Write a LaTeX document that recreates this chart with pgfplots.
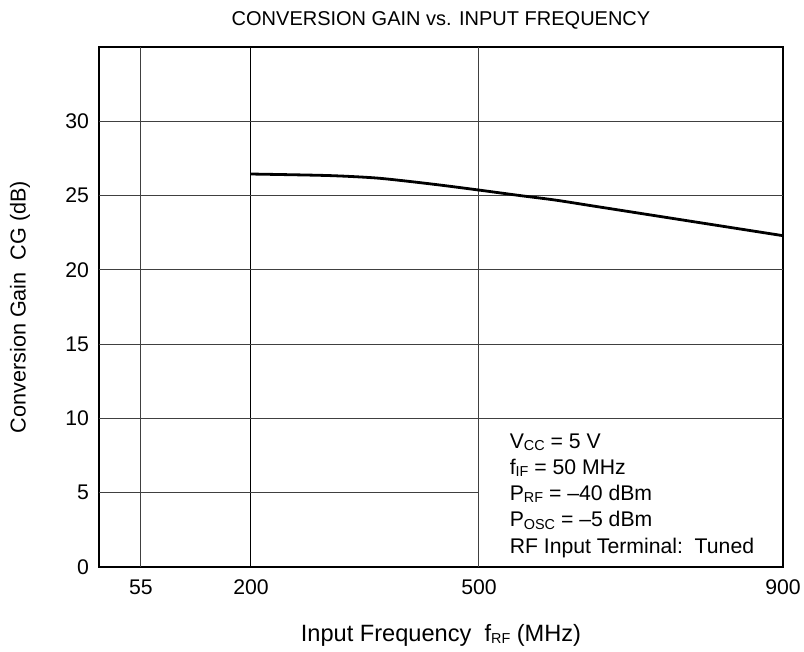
\documentclass[border=0pt]{standalone}
\usepackage{pgfplots}
\pgfplotsset{compat=1.18}
\usepackage{fontspec}
\setmainfont{Liberation Sans}
\newcommand{\sub}[1]{\raisebox{-0.2ex}{\fontsize{7.2}{8}\selectfont #1}}
\begin{document}
\begin{tikzpicture}[x=1pt,y=1pt]
\useasboundingbox (0,0) rectangle (402,326);
\begin{axis}[
  at={(49.5pt,42.5pt)}, anchor=south west,
  width=342pt, height=260pt, scale only axis,
  xmin=0, xmax=900, ymin=0, ymax=35,
  xtick={55,200,500,900}, ytick={0,5,10,15,20,25,30},
  major tick length=0pt,
  tick label style={font=\fontsize{10.6}{12}\selectfont},
  /pgf/number format/assume math mode=true,
  xticklabel style={yshift=-3pt},
  yticklabel style={xshift=-1.5pt},
  axis line style={line width=0.8pt},
  clip=false,
]
\draw[black!75, line width=0.5pt] (axis cs:55,0) -- (axis cs:55,35);
\draw[black, line width=0.5pt] (axis cs:200,0) -- (axis cs:200,35);
\draw[black!75, line width=0.5pt] (axis cs:500,0) -- (axis cs:500,35);
\draw[black!75, line width=0.5pt] (axis cs:0,5) -- (axis cs:500,5);
\foreach \yy in {10,15,20,25,30} {
  \edef\tmp{\noexpand\draw[black!75, line width=0.5pt] (axis cs:0,\yy) -- (axis cs:900,\yy);}\tmp
}
\addplot[black, line width=1.4pt, smooth, tension=0.5] coordinates {
(200,26.45) (300,26.35) (360,26.2) (400,26.0) (450,25.7) (500,25.37) (554,25.0) (600,24.7) (650,24.3) (725,23.7) (800,23.1) (900,22.3)
};
\node[anchor=north west, align=left, font=\fontsize{10.6}{13.1}\selectfont, inner sep=0pt] at (axis cs:540,9.0) {%
V\sub{CC} = 5 V\\
f\sub{IF} = 50 MHz\\
P\sub{RF} = --40 dBm\\
P\sub{OSC} = --5 dBm\\
RF Input Terminal:\ \ Tuned};
\end{axis}
\node[font=\fontsize{10}{12}\selectfont] at (220.5,316) {CONVERSION GAIN vs. INPUT FREQUENCY};
\node[font=\fontsize{11.8}{13}\selectfont] at (220.5,8.5) {Input Frequency\ \ f\sub{RF} (MHz)};
\node[font=\fontsize{10.8}{12}\selectfont, rotate=90] at (10,172.5) {Conversion Gain\ \ CG (dB)};
\end{tikzpicture}
\end{document}
